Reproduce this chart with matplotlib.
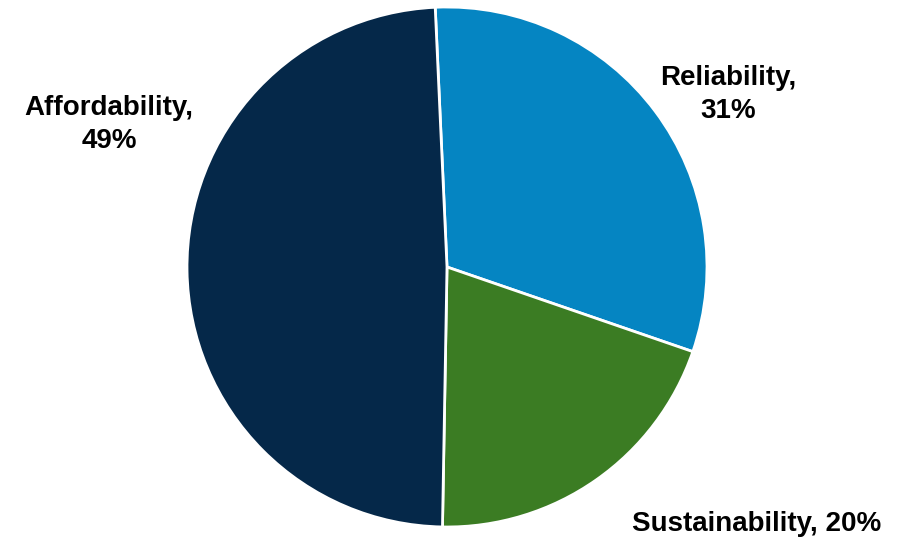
import matplotlib.pyplot as plt

categories = ["Reliability", "Sustainability", "Affordability"]
shares = [31, 20, 49]
colors = ["#0585c2", "#3b7c23", "#052849"]
label_text = ["{},\n{}%".format(categories[0], shares[0]),
              "{}, {}%".format(categories[1], shares[1]),
              "{},\n{}%".format(categories[2], shares[2])]

W, H = 909, 547
cx, cy, r = 447, 267, 260

fig = plt.figure(figsize=(W / 100, H / 100), dpi=100)
ax = fig.add_axes([0, 0, 1, 1])
ax.pie(shares, colors=colors, startangle=92.6, counterclock=False, radius=1,
       wedgeprops=dict(edgecolor="white", linewidth=2))
ax.set_xlim(-cx / r, (W - cx) / r)
ax.set_ylim(-(H - cy) / r, cy / r)
ax.set_aspect("equal")
ax.axis("off")

# label positions in pixels (x, y from top)
label_pos = [(728, 94), (757, 524), (109, 124)]
for txt, (px, py) in zip(label_text, label_pos):
    ax.text((px - cx) / r, (cy - py) / r, txt, ha="center", va="center",
            fontsize=20, fontweight="bold", family="Liberation Sans",
            linespacing=1.35)

fig.savefig("out.png", dpi=100)
